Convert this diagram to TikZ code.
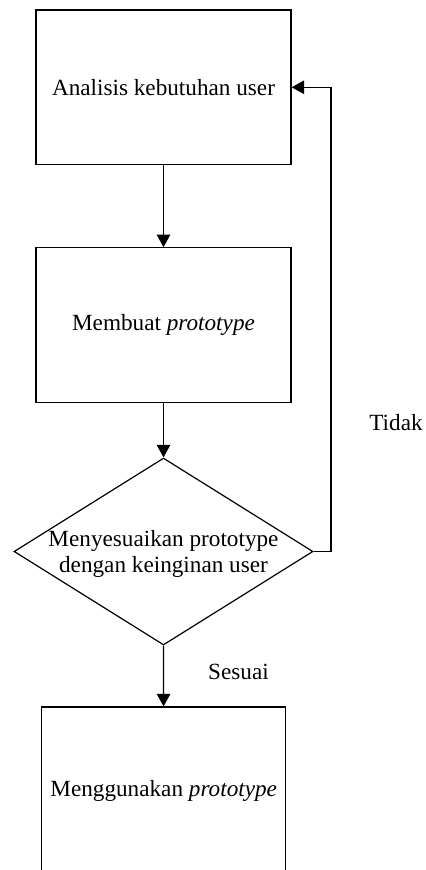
\documentclass[tikz,border=0pt]{standalone}
\usepackage{fontspec}
\setmainfont{Liberation Serif}
\usetikzlibrary{shapes.geometric,arrows.meta}
\begin{document}
\begin{tikzpicture}[x=0.5pt,y=-0.5pt,
  every node/.style={font=\fontsize{11.6}{13.4}\selectfont},
  procbox/.style={draw,line width=0.6pt,rectangle,inner sep=0pt},
  decbox/.style={draw,line width=0.6pt,shape=diamond,inner sep=0pt,minimum width=149.5pt,minimum height=93.5pt},
  conn/.style={line width=0.6pt,-{Triangle[length=6.3pt,width=6.8pt]}},
  plainline/.style={line width=0.6pt}]
\useasboundingbox (0,0) rectangle (426,870);
\clip (0,0) rectangle (426,870);
\node[procbox,minimum width=127.5pt,minimum height=77.25pt] (analisis) at (163.5,87.3) {Analisis kebutuhan user};
\node[procbox,minimum width=127.5pt,minimum height=77.25pt] (membuat) at (163.5,325) {Membuat \textit{prototype}};
\node[decbox] (cek) at (163.5,551.5) {};
\node[align=center,inner sep=0pt] (cektext) at (163.5,554) {Menyesuaikan prototype\\dengan keinginan user};
\node[procbox,minimum width=122pt,minimum height=84pt] (guna) at (163.7,791) {Menggunakan \textit{prototype}};
\node (tidak) at (396,423) {Tidak};
\node (sesuai) at (238.5,672) {Sesuai};
\coordinate (balik) at (331,551.5);
\draw[conn] (analisis) -- (membuat);
\draw[conn] (membuat) -- (cek.north);
\draw[conn] (cek.south) -- (guna);
\draw[conn] (cek.east) -- (balik) |- (analisis.east);
\end{tikzpicture}
\end{document}
